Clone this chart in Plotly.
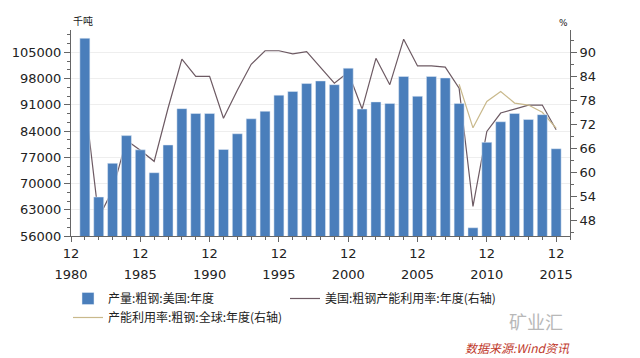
import plotly.graph_objects as go

years = list(range(1981, 2016))
us_output = [108800, 66400, 75400, 82800, 79000, 72900, 80300, 90000, 88700, 88700,
             79100, 83300, 87300, 89300, 93600, 94600, 96700, 97400, 96400, 100800,
             89900, 91800, 91400, 98600, 93300, 98600, 98200, 91400, 58200, 81000,
             86500, 88700, 87100, 88400, 79300]
us_util = [78.0, 48.6, 55.5, 68.0, 65.5, 62.7, 76.0, 88.3, 84.0, 84.0,
           73.5, 80.5, 87.0, 90.4, 90.4, 89.6, 90.2, 86.3, 82.3, 85.0,
           75.8, 88.5, 81.9, 93.3, 86.6, 86.6, 86.3, 81.0, 51.4, 70.2,
           74.8, 75.8, 76.8, 76.8, 70.6]
world_years = list(range(2008, 2016))
world_util = [82.0, 71.1, 77.7, 80.2, 77.3, 76.8, 75.0, 71.0]

tick_years = [1980, 1985, 1990, 1995, 2000, 2005, 2010, 2015]
month_text = ["12"] * len(tick_years)
year_text = [str(y) for y in tick_years]
left_ticks = list(range(56000, 105001, 7000))
right_ticks = list(range(48, 91, 6))

names = ["产量:粗钢:美国:年度", "美国:粗钢产能利用率:年度(右轴)", "产能利用率:粗钢:全球:年度(右轴)"]

tickfont = dict(family="DejaVu Sans", size=13, color="#222222")
axcol = "#666666"

fig = go.Figure()
# bars on the overlay axes (left scale) so they are drawn above the lines
fig.add_trace(go.Bar(x=years, y=us_output, name=names[0], marker_color="#4a7ebb",
                     width=0.72, xaxis="x2", yaxis="y2"))
fig.add_trace(go.Scatter(x=years, y=us_util, name=names[1], mode="lines",
                         line=dict(color="#6d5a63", width=1.2), xaxis="x", yaxis="y"))
fig.add_trace(go.Scatter(x=world_years, y=world_util, name=names[2], mode="lines",
                         line=dict(color="#c9b98c", width=1.2), xaxis="x", yaxis="y"))

fig.update_layout(
    width=640, height=358,
    margin=dict(l=63, r=78, t=22, b=130, autoexpand=False),
    paper_bgcolor="white", plot_bgcolor="white",
    xaxis=dict(range=[1980, 2016], tickmode="array", tickvals=tick_years, ticktext=month_text,
               ticks="outside", ticklen=5, tickcolor=axcol, showline=True, linecolor=axcol,
               showgrid=False, zeroline=False, tickfont=tickfont,
               minor=dict(dtick=1, tick0=1980, ticks="outside", ticklen=3, tickcolor=axcol, showgrid=False)),
    xaxis2=dict(range=[1980, 2016], overlaying="x", anchor="y2", side="bottom",
                tickmode="array", tickvals=tick_years, ticktext=year_text,
                ticks="", showline=False, showgrid=False, zeroline=False,
                tickfont=tickfont, ticklabelstandoff=29),
    yaxis2=dict(range=[56000, 111000], overlaying="y", tickmode="array", tickvals=left_ticks,
                ticktext=[str(v) for v in left_ticks], side="left",
                ticks="outside", ticklen=6, tickcolor=axcol, showline=True, linecolor=axcol,
                showgrid=True, gridcolor="#eeeeee", zeroline=False, tickfont=tickfont,
                minor=dict(dtick=7000 / 3, tick0=56000, ticks="outside", ticklen=3,
                           tickcolor=axcol, showgrid=False)),
    yaxis=dict(range=[44, 95.6], side="right", tickmode="array",
               tickvals=right_ticks, ticks="outside", ticklen=6, tickcolor=axcol,
               showline=True, linecolor=axcol, showgrid=False, zeroline=False, tickfont=tickfont,
               minor=dict(dtick=3, tick0=48, ticks="outside", ticklen=3, tickcolor=axcol, showgrid=False)),
    legend=dict(orientation="h", x=-0.006, y=-0.233, xanchor="left", yanchor="top",
                entrywidth=172, entrywidthmode="pixels",
                font=dict(family="Noto Sans CJK SC", size=12, color="#222222"),
                bgcolor="rgba(0,0,0,0)", traceorder="normal"),
    showlegend=True,
)

fig.add_annotation(text="千吨", xref="paper", yref="paper", x=0, y=1.0, xanchor="left", yanchor="bottom",
                   showarrow=False, font=dict(family="Noto Sans CJK SC", size=10, color="#222222"))
fig.add_annotation(text="%", xref="paper", yref="paper", x=1.0, y=1.0, xanchor="right", yanchor="bottom",
                   showarrow=False, font=dict(family="DejaVu Sans", size=9, color="#222222"))
fig.add_annotation(text="矿业汇", xref="paper", yref="paper", x=0.99, y=-0.413, xanchor="right", yanchor="middle",
                   showarrow=False, font=dict(family="Noto Sans CJK SC", size=18, color="#b8b8b8"))
fig.add_annotation(text="<i>数据来源:Wind资讯</i>", xref="paper", yref="paper", x=1.005, y=-0.54,
                   xanchor="right", yanchor="middle", showarrow=False,
                   font=dict(family="Noto Sans CJK SC", size=12, color="#c0392b"))

fig.write_html("out.html")
